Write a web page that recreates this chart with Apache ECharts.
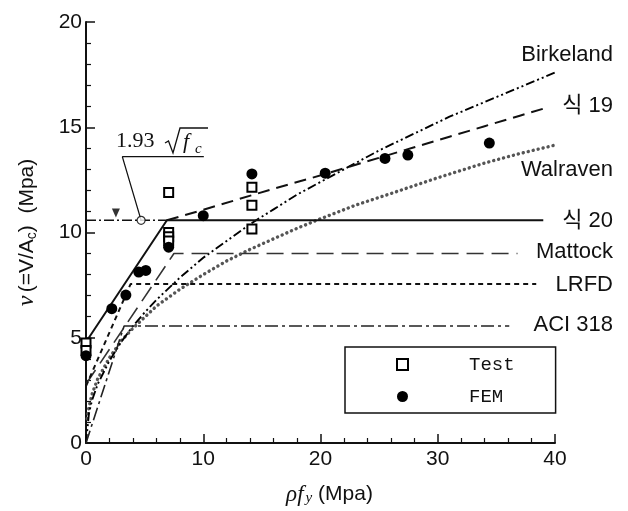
<!DOCTYPE html>
<html><head><meta charset="utf-8">
<script src="https://cdn.jsdelivr.net/npm/echarts@6/dist/echarts.min.js"></script>
<style>html,body{margin:0;padding:0;background:#fff}#c{width:628px;height:511px}</style>
</head><body><div id="c"></div><script>
// ---- data ----
const xTicks = [0, 10, 20, 30, 40];
const yTicks = [0, 5, 10, 15, 20];
const legendNames = ['Test', 'FEM'];
const curveLabels = ['Birkeland', '식 19', 'Walraven', '식 20', 'Mattock', 'LRFD', 'ACI 318'];
const testPts = [[0,4.75],[0,4.4],[7.05,11.9],[7.05,10.0],[7.05,9.8],[7.05,9.6],[14.15,12.15],[14.15,11.3],[14.15,10.17]];
const femPts = [[0,4.15],[2.2,6.38],[3.4,7.03],[4.5,8.12],[5.1,8.2],[7.05,9.3],[10.0,10.8],[14.15,12.78],[20.4,12.82],[25.5,13.52],[27.45,13.68],[34.4,14.25]];
const eq20 = [[0,4.8],[6.9,10.58],[39,10.58]];
const eq19 = [[6.9,10.58],[10,11.08],[13,11.58],[16,12.08],[19,12.55],[22,13.05],[25,13.55],[28,14.05],[31,14.55],[34,15.05],[37,15.55],[39,15.88]];
const birkeland = [[0,0],[0.25,1.4],[0.5,2.0],[1,2.8],[2,3.9],[3,4.8],[4,5.55],[5,6.2],[6,6.8],[8,7.85],[10,8.8],[12,9.6],[14,10.4],[16,11.1],[18,11.8],[20,12.4],[22,13.0],[25,13.9],[28,14.7],[31,15.5],[34,16.2],[37,16.9],[40,17.6]];
const walraven = [[0.1,1.15],[0.25,1.7],[0.5,2.3],[1,3.05],[2,4.05],[3,4.85],[4,5.45],[6,6.5],[8,7.3],[10,8.0],[12,8.65],[14,9.2],[16,9.7],[18,10.2],[20,10.65],[23,11.3],[26,11.85],[30,12.6],[34,13.3],[37,13.75],[40,14.15]];
const mattock = [[0,2.8],[7.5,9.0],[36.8,9.0]];
const lrfd = [[0,2.7],[3.8,7.55],[38.4,7.55]];
const aci = [[0,0],[3.25,5.56],[36.1,5.56]];
const capLine = [[0,10.58],[6.9,10.58]];
const leader = [[4.7,10.58],[3.1,13.6],[10.05,13.6]];
const capCircle = [[4.7,10.58]];
const capTriangle = [[2.55,10.93]];

const chart = echarts.init(document.getElementById('c'), null, {renderer: 'canvas'});
const SANS = '"Liberation Sans", Arial, "Noto Sans CJK KR", sans-serif';
const SERIF = '"Liberation Serif", "Times New Roman", serif';
const INK = '#111';

function lineSeries(name, data, lineStyle) {
  return {name, type: 'line', data, symbol: 'none', showSymbol: false, silent: true,
    animation: false, lineStyle: Object.assign({color: INK, width: 1.6}, lineStyle), z: 2};
}

const axisCommon = {
  axisLine: {show: true, lineStyle: {color: INK, width: 2}},
  axisTick: {show: true, inside: true, length: 9, lineStyle: {color: INK, width: 1.5}},
  minorTick: {show: true, splitNumber: 5, length: 5, lineStyle: {color: INK, width: 1.2}},
  splitLine: {show: false},
  axisLabel: {color: INK, fontFamily: SANS, fontSize: 21}
};

const labelY = [55, 106, 170, 221, 252, 285, 325];
const graphics = curveLabels.map((t, i) => ({
  type: 'text', x: 613, y: labelY[i], silent: true,
  style: {text: t, font: '22px ' + SANS, fill: INK, align: 'right', verticalAlign: 'middle'}
}));
graphics.push(
  {type: 'text', x: 116, y: 141, silent: true, style: {text: '1.93', font: '22px ' + SERIF, fill: INK, align: 'left', verticalAlign: 'middle'}},
  {type: 'polyline', silent: true, shape: {points: [[165,143],[168.5,141],[173,153],[180,128],[208,128]]}, style: {stroke: INK, lineWidth: 1.3, fill: null}},
  {type: 'text', x: 183, y: 142, silent: true, style: {text: 'f', font: 'italic 22px ' + SERIF, fill: INK, align: 'left', verticalAlign: 'middle'}},
  {type: 'text', x: 195, y: 149, silent: true, style: {text: 'c', font: 'italic 15px ' + SERIF, fill: INK, align: 'left', verticalAlign: 'middle'}}
);

chart.setOption({
  backgroundColor: '#fff',
  animation: false,
  grid: {left: 86, right: 73, top: 22, bottom: 68, containLabel: false},
  xAxis: Object.assign({}, axisCommon, {
    type: 'value', min: xTicks[0], max: xTicks[xTicks.length - 1], interval: xTicks[1] - xTicks[0],
    axisLabel: Object.assign({}, axisCommon.axisLabel, {margin: 6}),
    name: '{g|ρ}{g|f}{sub|y}{s| (Mpa)}', nameLocation: 'middle', nameGap: 40,
    nameTextStyle: {padding: [0, 0, 0, 18], rich: {
      g: {fontFamily: SERIF, fontStyle: 'italic', fontSize: 23, color: INK},
      sub: {fontFamily: SERIF, fontStyle: 'italic', fontSize: 15, color: INK, verticalAlign: 'bottom', padding: [0, 0, 0, 2]},
      s: {fontFamily: SANS, fontSize: 21, color: INK}
    }}
  }),
  yAxis: Object.assign({}, axisCommon, {
    type: 'value', min: yTicks[0], max: yTicks[yTicks.length - 1], interval: yTicks[1] - yTicks[0],
    axisLabel: Object.assign({}, axisCommon.axisLabel, {margin: 4}),
    name: '{g|ν} {s|(=V/A}{sub|c}{s|)  (Mpa)}', nameLocation: 'middle', nameGap: 47,
    nameTextStyle: {rich: {
      g: {fontFamily: SERIF, fontStyle: 'italic', fontSize: 24, color: INK},
      sub: {fontFamily: SANS, fontSize: 14, color: INK, verticalAlign: 'bottom'},
      s: {fontFamily: SANS, fontSize: 21, color: INK}
    }}
  }),
  legend: {
    data: legendNames, orient: 'vertical', left: 345, top: 347,
    padding: [8, 41, 7, 51], itemGap: 13, itemWidth: 11, itemHeight: 11,
    borderColor: INK, borderWidth: 1.5, backgroundColor: '#fff', selectedMode: false,
    formatter: n => '{g|}{t|' + n + '}',
    textStyle: {rich: {g: {width: 56}, t: {fontFamily: '"Liberation Mono", "DejaVu Sans Mono", monospace', fontSize: 19, lineHeight: 20, color: INK}}}
  },
  graphic: graphics,
  series: [
    lineSeries('Walraven', walraven, {type: [0.1, 5], width: 3.4, cap: 'round', color: '#555'}),
    lineSeries('Birkeland', birkeland, {type: [9, 3, 2, 3, 2, 3], width: 1.9, color: '#000'}),
    lineSeries('eq19', eq19, {type: [12, 7], width: 2}),
    lineSeries('eq20', eq20, {type: 'solid', width: 2}),
    lineSeries('Mattock', mattock, {type: [17, 8], width: 1.6, color: '#333'}),
    lineSeries('LRFD', lrfd, {type: [5, 4], width: 2}),
    lineSeries('ACI', aci, {type: [13, 4, 3, 4], width: 1.6, color: '#222'}),
    lineSeries('cap', capLine, {type: [10, 3, 2, 3], width: 1.5}),
    lineSeries('leader', leader, {type: 'solid', width: 1.2}),
    {name: 'capCircle', type: 'scatter', data: capCircle, symbol: 'circle', symbolSize: 8, silent: true, z: 4,
      itemStyle: {color: '#fff', borderColor: '#000', borderWidth: 1.2}},
    {name: 'capTriangle', type: 'scatter', data: capTriangle, symbol: 'triangle', symbolRotate: 180, symbolSize: [8, 9], silent: true, z: 4,
      itemStyle: {color: '#000'}},
    {name: 'Test', type: 'scatter', data: testPts, symbol: 'rect', symbolSize: 9, silent: true, z: 5,
      itemStyle: {color: '#fff', borderColor: '#000', borderWidth: 2, opacity: 1}},
    {name: 'FEM', type: 'scatter', data: femPts, symbol: 'circle', symbolSize: 11, silent: true, z: 5,
      itemStyle: {color: '#000', opacity: 1}}
  ]
});
</script></body></html>
